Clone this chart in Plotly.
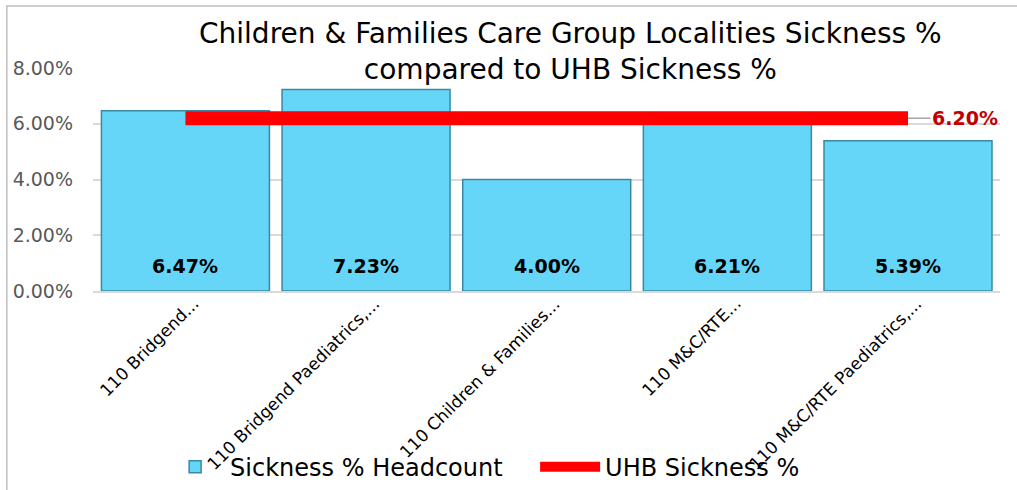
import plotly.graph_objects as go

categories = ["110 Bridgend...", "110 Bridgend Paediatrics,...", "110 Children & Families...",
              "110 M&C/RTE...", "110 M&C/RTE Paediatrics,..."]
sickness_headcount = [0.0647, 0.0723, 0.0400, 0.0621, 0.0539]
uhb_sickness = [0.062, 0.062, 0.062, 0.062, 0.062]
y_ticks = [0, 0.02, 0.04, 0.06, 0.08]

FONT = "DejaVu Sans"

fig = go.Figure()
fig.add_trace(go.Bar(
    x=categories, y=sickness_headcount, name="Sickness % Headcount",
    marker=dict(color="#66D6F8", line=dict(color="#3A88A3", width=1.5)),
    width=0.93,
))
fig.add_trace(go.Scatter(
    x=categories, y=uhb_sickness, name="UHB Sickness %",
    mode="lines",
    line=dict(color="#FF0000", width=14),
))

# data labels near the base of each bar, and rotated category labels
for cat, v in zip(categories, sickness_headcount):
    fig.add_annotation(
        x=cat, y=0, xref="x", yref="y", yanchor="bottom", yshift=12,
        text=f"<b>{v*100:.2f}%</b>", showarrow=False,
        font=dict(family=FONT, size=19, color="black"),
    )
    fig.add_annotation(
        x=cat, y=0, xref="x", yref="y", xanchor="right", yanchor="top",
        xshift=20, yshift=0, textangle=-45,
        text=cat, showarrow=False,
        font=dict(family=FONT, size=17, color="black"),
    )

fig.add_annotation(
    x=categories[-1], y=uhb_sickness[-1], xref="x", yref="y",
    text=f"<b>{uhb_sickness[-1]*100:.2f}%</b>",
    showarrow=True, arrowhead=0, arrowcolor="#A6A6A6", arrowwidth=1.5,
    ax=57, ay=0, standoff=0,
    font=dict(family=FONT, size=19, color="#C00000"),
)
fig.add_annotation(
    x=0.527, y=1.076, xref="paper", yref="paper", xanchor="center", yanchor="middle",
    text="Children & Families Care Group Localities Sickness %<br>compared to UHB Sickness %",
    showarrow=False, font=dict(family=FONT, size=28, color="black"),
)

fig.update_layout(
    width=1017, height=490,
    paper_bgcolor="white", plot_bgcolor="white",
    margin=dict(l=93, r=17, t=68, b=199, autoexpand=False),
    showlegend=True,
    legend=dict(orientation="h", x=0.074, y=-0.79, xanchor="left", yanchor="middle",
                bgcolor="rgba(0,0,0,0)", entrywidth=300, entrywidthmode="pixels",
                font=dict(family=FONT, size=24, color="black"), itemwidth=60),
    bargap=0.07,
    shapes=[dict(type="rect", xref="paper", yref="paper", x0=-0.095, x1=1.06, y0=-1.1, y1=1.278,
                 line=dict(color="#BFBFBF", width=1.5))],
)
fig.update_yaxes(range=[0, 0.08], tickvals=y_ticks, tickformat=".2%", automargin=False,
                 showgrid=True, gridcolor="#D9D9D9", gridwidth=1.5, zeroline=False,
                 tickfont=dict(family=FONT, size=19, color="#595959"), ticks="", showline=False,
                 ticklabelstandoff=19)
fig.update_xaxes(showticklabels=False, automargin=False,
                 showline=True, linecolor="#D9D9D9", linewidth=1.5, ticks="")

fig.write_html("out.html", config={"displayModeBar": False},
               post_script="document.body.style.margin='0px';")
